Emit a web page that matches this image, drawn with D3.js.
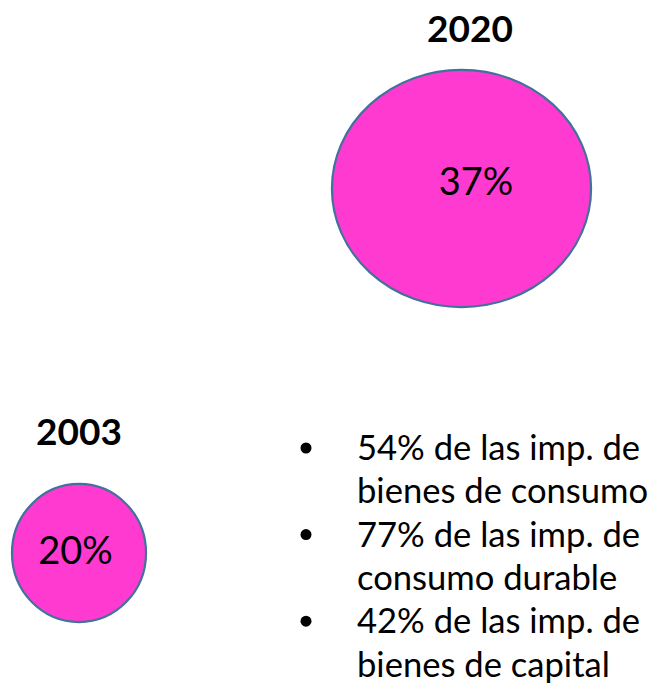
<!DOCTYPE html>
<html>
<head>
<meta charset="utf-8">
<script src="https://cdn.jsdelivr.net/npm/d3@7"></script>
<style>
  html, body { margin: 0; padding: 0; background: #fff; }
  svg { display: block; }
</style>
</head>
<body>
<svg id="chart"></svg>
<script>
// data
var years = ["2020", "2003"];
var shares = [37, 20];
var notes = [
    ["54% de las imp. de", "bienes de consumo"],
    ["77% de las imp. de", "consumo durable"],
    ["42% de las imp. de", "bienes de capital"]
];

var width = 653,
    height = 684,
    font = "Lato, 'Open Sans', sans-serif";

var svg = d3.select("#chart")
    .attr("width", width)
    .attr("height", height);

// layout of each bubble (centre, shape, title, label offsets)
var layout = [
    { cx: 461.5, cy: 188.5, sx: 1.045, sy: 0.956, tx: 470, ty: 42, lx: 476, ly: 195 },
    { cx: 79, cy: 553, sx: 1.0, sy: 1.03, tx: 79, ty: 445, lx: 75.5, ly: 564 }
];

var r = d3.scaleLinear().domain([0, 37]).range([0, 124]);

var bubbles = svg.selectAll("g.bubble")
    .data(years.map(function (y, i) {
        return { year: y, value: shares[i], pos: layout[i] };
    }))
    .enter().append("g")
    .attr("class", "bubble");

bubbles.append("ellipse")
    .attr("cx", function (d) { return d.pos.cx; })
    .attr("cy", function (d) { return d.pos.cy; })
    .attr("rx", function (d) { return r(d.value) * d.pos.sx; })
    .attr("ry", function (d) { return r(d.value) * d.pos.sy; })
    .style("fill", "#ff3ad0")
    .style("stroke", "#41719c")
    .style("stroke-width", 2.2);

bubbles.append("text")
    .attr("x", function (d) { return d.pos.tx; })
    .attr("y", function (d) { return d.pos.ty; })
    .attr("text-anchor", "middle")
    .style("font-family", font)
    .style("font-weight", "bold")
    .style("font-size", "37px")
    .style("fill", "#000")
    .text(function (d) { return d.year; });

bubbles.append("text")
    .attr("x", function (d) { return d.pos.lx; })
    .attr("y", function (d) { return d.pos.ly; })
    .attr("text-anchor", "middle")
    .style("font-family", font)
    .style("font-size", "38px")
    .style("fill", "#000")
    .text(function (d) { return d.value + "%"; });

// bullet list
var lineH = 43.3,
    firstBase = 460;

var items = svg.append("g").attr("class", "notes")
    .selectAll("g")
    .data(notes)
    .enter().append("g");

items.append("circle")
    .attr("cx", 306)
    .attr("cy", function (d, i) { return firstBase - 12 + i * 2 * lineH; })
    .attr("r", 5.5)
    .style("fill", "#000");

items.selectAll("text")
    .data(function (d, i) {
        return d.map(function (t, j) { return { t: t, row: i * 2 + j }; });
    })
    .enter().append("text")
    .attr("x", 357)
    .attr("y", function (d) { return firstBase + d.row * lineH; })
    .style("font-family", font)
    .style("font-size", "34.6px")
    .style("fill", "#000")
    .text(function (d) { return d.t; });
</script>
</body>
</html>
